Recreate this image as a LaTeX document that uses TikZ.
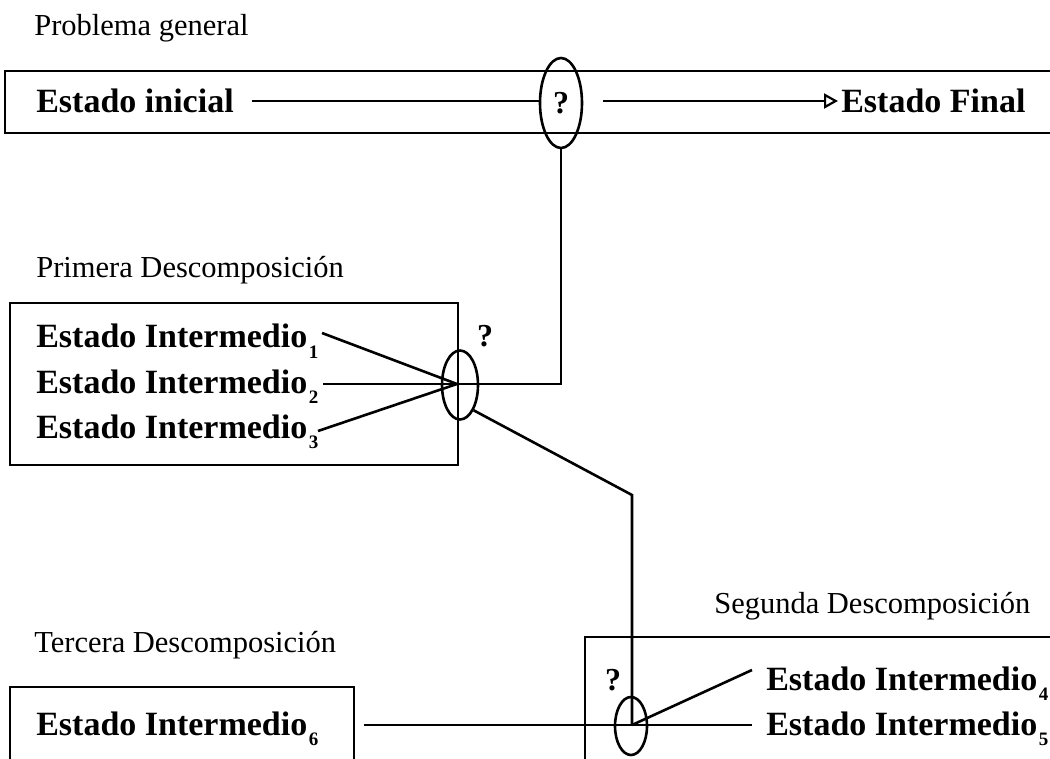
\documentclass[tikz,border=0pt]{standalone}
\usepackage{fontspec}
\setmainfont{Liberation Serif}
\usetikzlibrary{shapes.geometric,arrows.meta}
\newcommand\stsub[1]{\hspace{1.5pt}\raisebox{-0.32em}{\fontsize{19}{19}\selectfont #1}}
\begin{document}
\begin{tikzpicture}[x=1pt,y=-1pt,line width=2.6pt,
  lbl/.style={anchor=base west,inner sep=0pt,font=\fontsize{30.5}{30.5}\selectfont},
  st/.style={anchor=base west,inner sep=0pt,font=\bfseries\fontsize{34}{34}\selectfont},
  qm/.style={anchor=base,inner sep=0pt,font=\bfseries\fontsize{32}{32}\selectfont},
  oval/.style={draw,ellipse,inner sep=0pt},
  frame/.style={draw,rectangle,inner sep=0pt},
  tip/.style={-{Triangle[open,length=14pt,width=15pt,line width=2.2pt]}}
]
\useasboundingbox (0,0) rectangle (1050,759);
\clip (0,0) rectangle (1050,759);
% frames
\node[frame,minimum width=1065pt,minimum height=62pt] (b1) at (537.5,102) {};
\node[frame,minimum width=448pt,minimum height=162pt] (b2) at (234,384) {};
\node[frame,minimum width=495pt,minimum height=183pt] (b3) at (832.5,728.5) {};
\node[frame,minimum width=344pt,minimum height=133pt] (b4) at (182,753.5) {};
% labels
\node[lbl] (pg) at (33,36) {Problema general};
\node[lbl] (pd) at (35,278) {Primera Descomposición};
\node[lbl] (sd) at (713,613) {Segunda Descomposición};
\node[lbl] (td) at (33,652) {Tercera Descomposición};
% states
\node[st] (ini) at (35,113) {Estado inicial};
\node[st] (fin) at (840,113) {Estado Final};
\node[st] (t1) at (35,348) {Estado Intermedio\stsub{1}};
\node[st] (t2) at (35,393) {Estado Intermedio\stsub{2}};
\node[st] (t3) at (35,438) {Estado Intermedio\stsub{3}};
\node[st] (t4) at (765,690) {Estado Intermedio\stsub{4}};
\node[st] (t5) at (765,735) {Estado Intermedio\stsub{5}};
\node[st] (t6) at (35,735) {Estado Intermedio\stsub{6}};
% ovals and question marks
\node[oval,minimum width=42pt,minimum height=90pt] (e1) at (561,103) {};
\node[oval,minimum width=36pt,minimum height=69pt] (e2) at (460,385) {};
\node[oval,minimum width=32pt,minimum height=58pt] (e3) at (631,726) {};
\node[qm] (q1) at (561,114) {?};
\node[qm] (q2) at (485,347) {?};
\node[qm] (q3) at (613,690) {?};
% junction points and free ends
\coordinate (c2) at (457,384);
\coordinate (c3) at (632,725);
\coordinate (s0) at (252,101);
\coordinate (a0) at (603,101);
\coordinate (a1) at (838,101);
\coordinate (s1) at (322,333);
\coordinate (s2) at (323,384);
\coordinate (s3) at (318,431);
\coordinate (k1) at (632,495);
\coordinate (s6) at (364,725);
\coordinate (s4) at (752,670);
\coordinate (s5) at (752,725);
% connectors
\draw (s0) -- (s0 -| e1.west);
\draw[tip] (a0) -- (a1);
\draw (e1.south) |- (c2);
\draw (s1) -- (c2);
\draw (s2) -- (c2);
\draw (s3) -- (c2);
\draw (e2.south east) -- (k1) -- (c3);
\draw (s6) -- (c3);
\draw (c3) -- (s4);
\draw (c3) -- (s5);
\end{tikzpicture}
\end{document}
